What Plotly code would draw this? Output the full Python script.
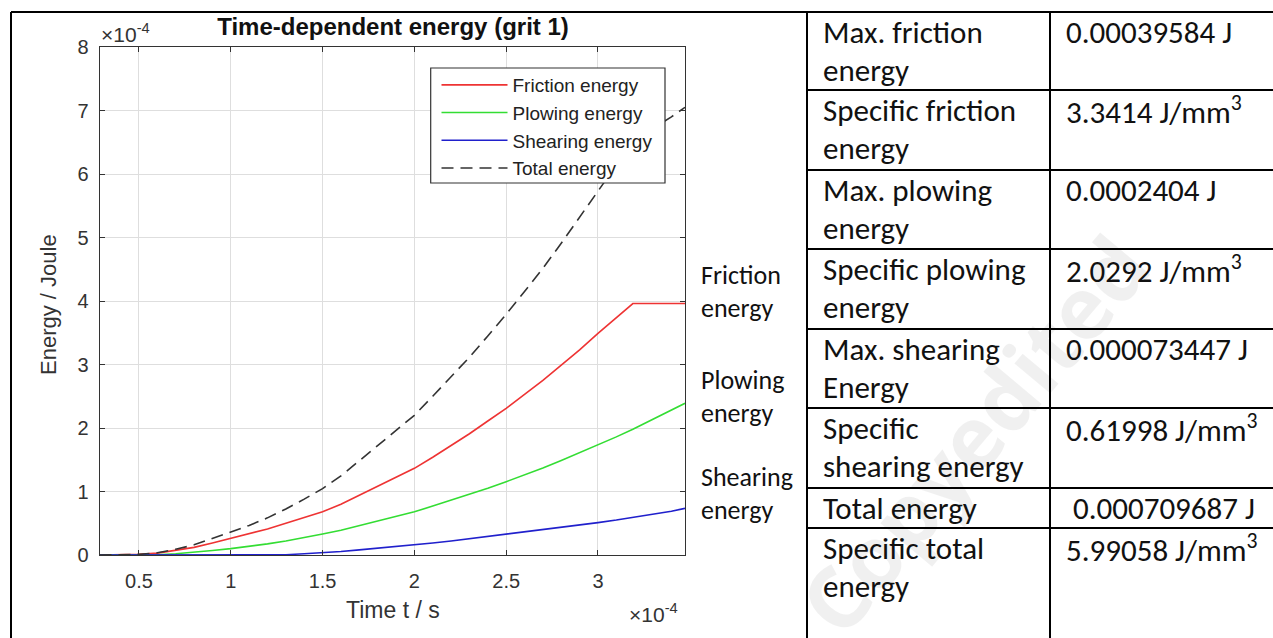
import plotly.graph_objects as go

# ---------------- data (units of 1e-4) ----------------
time_e4 = [0.285, 0.4, 0.5, 0.6, 0.7, 0.8, 0.9, 1.0, 1.1, 1.2, 1.3, 1.4, 1.5, 1.6, 1.7,
           1.8, 1.9, 2.0, 2.1, 2.2, 2.3, 2.4, 2.5, 2.6, 2.7, 2.8, 2.9, 3.0, 3.1, 3.19,
           3.3, 3.4, 3.474]
friction_e4 = [0, 0, 0.01, 0.03, 0.07, 0.12, 0.19, 0.26, 0.33, 0.41, 0.50, 0.59, 0.68, 0.80,
               0.94, 1.08, 1.22, 1.365, 1.54, 1.72, 1.91, 2.11, 2.31, 2.53, 2.75, 2.99, 3.23,
               3.49, 3.73, 3.96, 3.96, 3.96, 3.96]
plowing_e4 = [0, 0, 0, 0.005, 0.02, 0.04, 0.07, 0.10, 0.135, 0.175, 0.22, 0.27, 0.33, 0.39,
              0.46, 0.53, 0.60, 0.68, 0.77, 0.86, 0.95, 1.05, 1.155, 1.26, 1.37, 1.49, 1.61,
              1.73, 1.86, 1.98, 2.14, 2.28, 2.39]
shearing_e4 = [0, 0, 0, 0, 0, 0, 0, 0, 0, 0, 0.005, 0.02, 0.035, 0.055, 0.08, 0.105, 0.13,
               0.157, 0.19, 0.22, 0.255, 0.29, 0.325, 0.36, 0.395, 0.43, 0.47, 0.51, 0.55,
               0.59, 0.64, 0.69, 0.735]
total_e4 = [0, 0, 0.01, 0.035, 0.09, 0.16, 0.26, 0.36, 0.465, 0.585, 0.725, 0.88, 1.045, 1.245,
            1.48, 1.715, 1.95, 2.20, 2.50, 2.80, 3.115, 3.45, 3.79, 4.15, 4.515, 4.91, 5.31,
            5.73, 6.14, 6.53, 6.72, 6.90, 7.05]

series_names = ["Friction energy", "Plowing energy", "Shearing energy", "Total energy"]
x_tick_vals = [0.5, 1, 1.5, 2, 2.5, 3]
x_tick_text = ["0.5", "1", "1.5", "2", "2.5", "3"]
y_tick_vals = [0, 1, 2, 3, 4, 5, 6, 7, 8]
y_tick_text = ["0", "1", "2", "3", "4", "5", "6", "7", "8"]

side_labels = ["Friction<br>energy", "Plowing<br>energy", "Shearing<br>energy"]
table_labels = ["Max. friction<br>energy", "Specific friction<br>energy",
                "Max. plowing<br>energy", "Specific plowing<br>energy",
                "Max. shearing<br>Energy", "Specific<br>shearing energy",
                "Total energy", "Specific total<br>energy"]
table_values = ["0.00039584 J", "3.3414 J/mm<sup>3</sup>", "0.0002404 J",
                "2.0292 J/mm<sup>3</sup>", "0.000073447 J", "0.61998 J/mm<sup>3</sup>",
                " 0.000709687 J", "5.99058 J/mm<sup>3</sup>"]

# ---------------- layout helpers ----------------
W, H = 1273, 638
def PX(x):
    return x / W
def PY(y):
    return 1 - y / H

CHART_FONT = "Liberation Sans, Arial, Helvetica, sans-serif"
DOC_FONT = "Carlito, Calibri, Open Sans, sans-serif"
AX = "#333333"

fig = go.Figure()
styles = [dict(color="#ee3333", width=1.6),
          dict(color="#33dd33", width=1.6),
          dict(color="#2020cc", width=1.6),
          dict(color="#333333", width=1.6, dash="12px,7px")]
for name, ys, st in zip(series_names, [friction_e4, plowing_e4, shearing_e4, total_e4], styles):
    fig.add_trace(go.Scatter(x=time_e4, y=ys, mode="lines", name=name, line=st))

axis_common = dict(showgrid=True, gridcolor="#dedede", gridwidth=1, zeroline=False,
                   ticks="inside", ticklen=5, tickcolor=AX, tickwidth=1,
                   showline=True, linecolor=AX, linewidth=1, mirror="ticks",
                   automargin=False,
                   tickfont=dict(family=CHART_FONT, size=20, color=AX))

fig.update_layout(
    width=W, height=H, margin=dict(l=0, r=0, t=0, b=0, pad=0, autoexpand=False),
    paper_bgcolor="white", plot_bgcolor="white",
    xaxis=dict(domain=[PX(99.5), PX(685)], range=[0.285, 3.474],
               tickvals=x_tick_vals, ticktext=x_tick_text, ticklabelstandoff=8, **axis_common),
    yaxis=dict(domain=[PY(555), PY(47)], range=[0, 8],
               tickvals=y_tick_vals, ticktext=y_tick_text, ticklabelstandoff=6, **axis_common),
    title=dict(text="<b>Time-dependent energy (grit 1)</b>", x=PX(393), xanchor="center",
               y=PY(27), yanchor="middle", xref="paper", yref="paper", automargin=False,
               font=dict(family=CHART_FONT, size=24, color="#111111")),
    legend=dict(x=PX(436.5), y=PY(66), xanchor="left", yanchor="top",
                bgcolor="rgba(0,0,0,0)", borderwidth=0,
                font=dict(family=CHART_FONT, size=19, color="#222222"),
                itemwidth=66, tracegroupgap=0),
    showlegend=True,
)

def text_ann(text, x, y, size, family, color="#111111", xanchor="left", yanchor="middle", angle=0):
    return dict(text=text, x=PX(x), y=PY(y), xref="paper", yref="paper", showarrow=False,
                xanchor=xanchor, yanchor=yanchor, textangle=angle,
                font=dict(family=family, size=size, color=color))

ann = []
# watermark (drawn first so the rest sits above it)
ann.append(text_ann("<b>Copyedited</b>", 972, 434, 86, "Open Sans, sans-serif",
                    color="rgba(0,0,0,0.06)", xanchor="center", angle=-50))
# axis titles and exponents
ann.append(text_ann("Time t / s", 393, 610, 23, CHART_FONT, color=AX, xanchor="center"))
ann.append(text_ann("Energy / Joule", 48, 305, 22, CHART_FONT, color=AX, xanchor="center", angle=-90))
ann.append(text_ann("×10<sup>-4</sup>", 99, 33, 21, CHART_FONT, color=AX))
ann.append(text_ann("×10<sup>-4</sup>", 627, 613, 21, CHART_FONT, color=AX))

# side labels next to the chart
side_y = [275, 380, 477]
for lab, y0 in zip(side_labels, side_y):
    for k, line in enumerate(lab.split("<br>")):
        ann.append(text_ann(line, 699, y0 + 33 * k, 26, DOC_FONT))

# table
row_tops = [12, 90, 170, 249, 329, 408, 488, 528]
for top, lab, val in zip(row_tops, table_labels, table_values):
    for k, line in enumerate(lab.split("<br>")):
        ann.append(text_ann(line, 821, top + 20 + 38 * k, 31, DOC_FONT))
    ann.append(text_ann(val, 1064, top + 20, 31, DOC_FONT))
fig.update_layout(annotations=ann)

shapes = []
# legend frame (white box hiding the curves beneath, as in the original)
shapes.append(dict(type="rect", xref="paper", yref="paper", layer="above",
                   x0=PX(430.7), x1=PX(665), y0=PY(183), y1=PY(68),
                   fillcolor="white", line=dict(color=AX, width=1.2)))
def hline(y, x0, x1):
    shapes.append(dict(type="line", xref="paper", yref="paper", x0=PX(x0), x1=PX(x1),
                       y0=PY(y), y1=PY(y), line=dict(color="black", width=2)))
def vline(x, y0, y1):
    shapes.append(dict(type="line", xref="paper", yref="paper", x0=PX(x), x1=PX(x),
                       y0=PY(y0), y1=PY(y1), line=dict(color="black", width=2)))
hline(12, 11, W)
vline(11, 12, H)
vline(807, 12, H)
vline(1050, 12, H)
for top in row_tops[1:]:
    hline(top, 807, W)
fig.update_layout(shapes=shapes)

fig.write_html("out.html", config={"displayModeBar": False},
               post_script="document.body.style.margin='0px';")
